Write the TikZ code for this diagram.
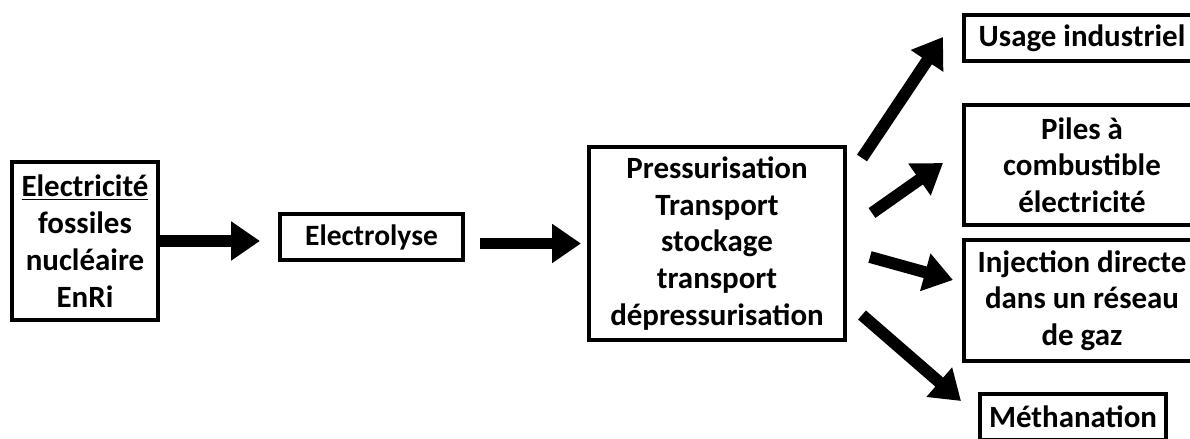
\documentclass[tikz,border=0pt]{standalone}
\usepackage{fontspec}
\setmainfont{Carlito}
\usepackage{tikz}
\usetikzlibrary{arrows.meta,positioning,calc}

\begin{document}
\begin{tikzpicture}[
  font=\fontsize{22}{26}\selectfont\bfseries,
  every node/.style={align=center},
  base/.style    = {draw, line width=2.85pt, fill=white, text centered, inner sep=0pt},
  srcnd/.style   = {base, minimum width=3.65cm, minimum height=3.95cm},
  elecnd/.style  = {base, minimum width=4.575cm, minimum height=1.15cm},
  midnd/.style   = {base, minimum width=6.4cm, minimum height=4.825cm},
  outnd/.style   = {base, minimum width=5.9cm},
  usend/.style   = {outnd, minimum height=1.15cm},
  tallnd/.style  = {outnd, minimum height=3.0cm},
  methnd/.style  = {base, minimum width=4.65cm, minimum height=1.15cm},
  fleche/.style  = {line width=8.5pt, -{Triangle[length=0.72cm, width=0.93cm]}}
]
\useasboundingbox (0,0) rectangle (29.75,10.975);
\clip (0,0) rectangle (29.75,10.975);

%% ===== chaine principale =====
\node[srcnd] (src) at (2.125, 4.95)
  {\fontsize{22}{22}\selectfont\underline{Electricité}\\[0.02cm] fossiles \\ nucléaire \\ EnRi};
\node[elecnd, font=\fontsize{21}{25}\selectfont\bfseries] (elec) at (9.2875, 5.05) {Electrolyse};
\node[midnd] (mid) at (17.925, 4.8875)
  {\fontsize{22}{26.5}\selectfont Pressurisation \\ Transport \\ stockage \\ transport \\ dépressurisation};

\draw[fleche, shorten >=0.45cm] (src.east) -- (src.east -| elec.west);
\draw[fleche, shorten <=0.375cm, shorten >=0.15cm] (mid.west -| elec.east) -- (mid.west);

%% ===== usages =====
\node[usend] (use) at (27.05, 10.025) {Usage industriel};
\node[tallnd] (pile) at (27.05, 6.85)
  {Piles à \\ combustible \\ électricité};
\node[tallnd, minimum height=3.025cm] (inj) at (27.05, 3.4625)
  {Injection directe \\ dans un réseau \\ de gaz};
\node[methnd] (meth) at (26.825, 0.55) {Méthanation};

\draw[fleche] ($(mid.north east)+(0.375,-0.325)$) -- ($(use.west)+(-0.475,0.025)$);
\draw[fleche] ($(mid.east)+(0.625,0.7625)$) -- ($(pile.west)+(-0.475,0.05)$);
\draw[fleche] ($(mid.east)+(0.575,-0.3375)$) -- ($(inj.west)+(-0.225,0.5125)$);
\draw[fleche] ($(mid.south east)+(0.375,0.675)$) -- ($(meth.west)+(-0.425,0.4)$);

\end{tikzpicture}
\end{document}
